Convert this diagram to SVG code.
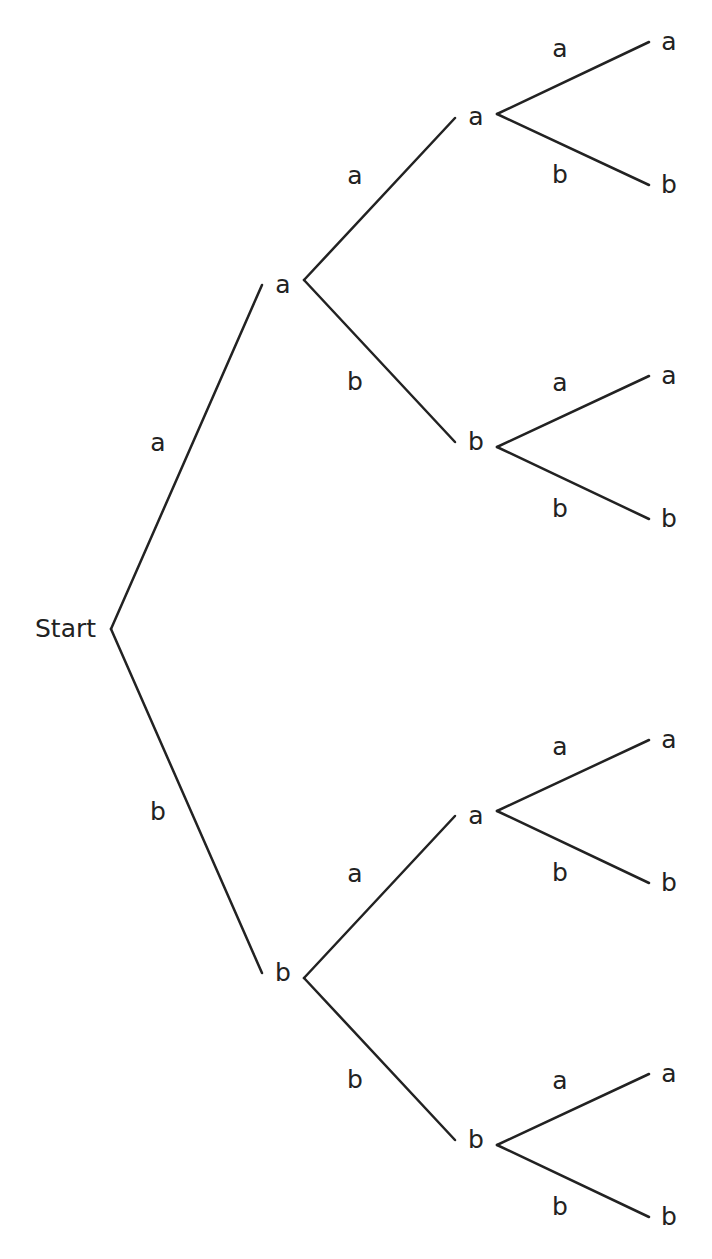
<svg xmlns="http://www.w3.org/2000/svg" width="712" height="1259" viewBox="0 0 712 1259">
<style>
text{font-family:"DejaVu Sans",sans-serif;font-size:25px;fill:#222}
.n{text-anchor:middle}
line{stroke:#222;stroke-width:2.5;stroke-linecap:round}
</style>
<rect width="712" height="1259" fill="#fff"/>
<g id="connectors">
<line x1="111" y1="629" x2="262" y2="285"/>
<line x1="111" y1="629" x2="262" y2="973"/>
<line x1="304" y1="280" x2="455" y2="118"/>
<line x1="304" y1="280" x2="455" y2="442"/>
<line x1="304" y1="978" x2="455" y2="816"/>
<line x1="304" y1="978" x2="455" y2="1140"/>
<line x1="497" y1="114" x2="649" y2="42"/>
<line x1="497" y1="114" x2="649" y2="185"/>
<line x1="497" y1="447" x2="649" y2="376"/>
<line x1="497" y1="447" x2="649" y2="519"/>
<line x1="497" y1="811" x2="649" y2="740"/>
<line x1="497" y1="811" x2="649" y2="883"/>
<line x1="497" y1="1145" x2="649" y2="1074"/>
<line x1="497" y1="1145" x2="649" y2="1217"/>
<text class="n" x="158" y="451">a</text>
<text class="n" x="158" y="820">b</text>
<text class="n" x="355" y="184">a</text>
<text class="n" x="355" y="390">b</text>
<text class="n" x="355" y="882">a</text>
<text class="n" x="355" y="1088">b</text>
<text class="n" x="560" y="57">a</text>
<text class="n" x="560" y="183">b</text>
<text class="n" x="560" y="391">a</text>
<text class="n" x="560" y="517">b</text>
<text class="n" x="560" y="755">a</text>
<text class="n" x="560" y="881">b</text>
<text class="n" x="560" y="1089">a</text>
<text class="n" x="560" y="1215">b</text>
</g>
<g id="start"><text x="35" y="637">Start</text></g>
<g id="n_a"><text class="n" x="283" y="293">a</text></g>
<g id="n_b"><text class="n" x="283" y="981">b</text></g>
<g id="n_aa"><text class="n" x="476" y="125">a</text></g>
<g id="n_ab"><text class="n" x="476" y="450">b</text></g>
<g id="n_ba"><text class="n" x="476" y="824">a</text></g>
<g id="n_bb"><text class="n" x="476" y="1148">b</text></g>
<g id="l1"><text class="n" x="669" y="50">a</text></g>
<g id="l2"><text class="n" x="669" y="193">b</text></g>
<g id="l3"><text class="n" x="669" y="384">a</text></g>
<g id="l4"><text class="n" x="669" y="527">b</text></g>
<g id="l5"><text class="n" x="669" y="748">a</text></g>
<g id="l6"><text class="n" x="669" y="891">b</text></g>
<g id="l7"><text class="n" x="669" y="1082">a</text></g>
<g id="l8"><text class="n" x="669" y="1225">b</text></g>
</svg>
